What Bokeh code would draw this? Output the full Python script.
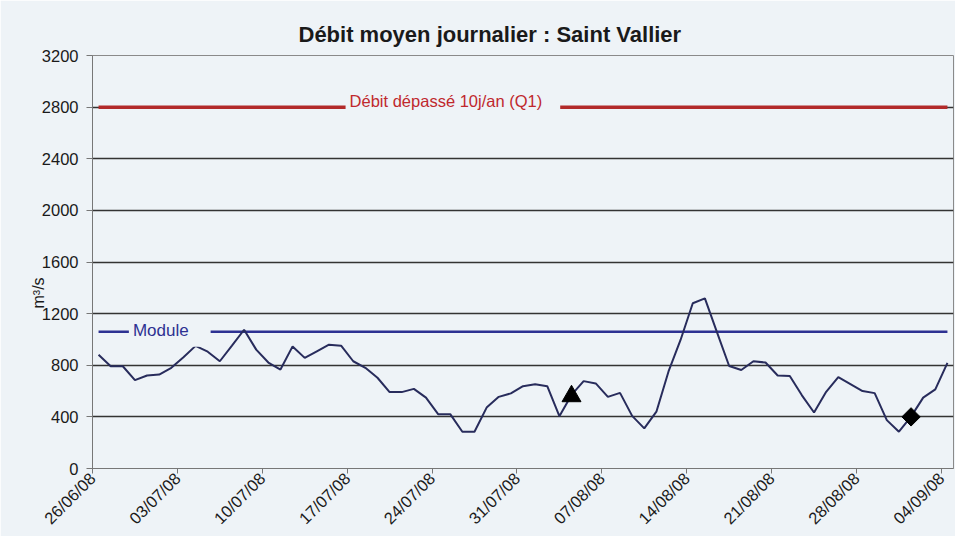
import pandas as pd
from math import pi
from bokeh.plotting import figure
from bokeh.models import Range1d, FixedTicker, Label, ColumnDataSource, Title
from bokeh.embed import file_html
from bokeh.resources import INLINE

# ---------------- data ----------------
start_date = "2008-06-26"
end_date = "2008-09-04"
dates = pd.date_range(start_date, end_date, freq="D")
debit = [882, 792, 792, 685, 721, 728, 780, 862, 950, 905,
         831, 952, 1075, 921, 821, 767, 946, 857, 908, 959,
         952, 831, 780, 703, 592, 592, 617, 549, 421, 421,
         285, 285, 472, 555, 582, 638, 652, 638, 405, 570,
         677, 659, 555, 586, 408, 311, 440, 752, 998, 1280,
         1318, 1055, 794, 763, 831, 821, 721, 717, 567, 434,
         594, 708, 654, 600, 584, 375, 285, 402, 549, 613, 818]
module_value = 1060
q1_value = 2800
triangle_dates = ["2008-08-04"]
triangle_values = [560]
diamond_dates = ["2008-09-01"]
diamond_values = [400]
tick_dates = ["2008-06-26", "2008-07-03", "2008-07-10", "2008-07-17", "2008-07-24",
              "2008-07-31", "2008-08-07", "2008-08-14", "2008-08-21", "2008-08-28",
              "2008-09-04"]
y_ticks = [0, 400, 800, 1200, 1600, 2000, 2400, 2800, 3200]

# ---------------- helpers ----------------
t0 = pd.Timestamp(start_date)
def dayx(d, mid=True):
    return (pd.Timestamp(d) - t0).days + (0.5 if mid else 0.0)

xs = [dayx(d) for d in dates]
n_days = len(dates)

BG = "#eef3f7"
FONT = "Liberation Sans"

p = figure(width=955, height=536, output_backend="svg", toolbar_location=None,
           x_range=Range1d(0, n_days), y_range=Range1d(0, 3200),
           min_border_left=92, min_border_right=2, min_border_top=55, min_border_bottom=67,
           background_fill_color=BG, border_fill_color=BG)

p.title.text = "Débit moyen journalier : Saint Vallier"
p.title.align = "left"
p.title.offset = 206
p.title.text_font = FONT
p.title.text_font_size = "22px"
p.title.text_font_style = "bold"
p.title.text_color = "#1a1a1a"
p.title.standoff = 18

p.outline_line_color = "#8a8a8a"
p.outline_line_width = 1

# grid
p.xgrid.visible = False
p.ygrid.ticker = FixedTicker(ticks=y_ticks)
p.ygrid.grid_line_color = "#333333"
p.ygrid.grid_line_width = 1.7

# axes
p.yaxis.ticker = FixedTicker(ticks=y_ticks)
p.yaxis.major_label_text_font = FONT
p.yaxis.major_label_text_font_size = "16.5px"
p.yaxis.major_label_text_color = "#1a1a1a"
p.yaxis.major_label_standoff = 8
p.yaxis.major_tick_out = 6
p.yaxis.major_tick_in = 0
p.yaxis.minor_tick_line_color = None
p.yaxis.axis_line_color = "#777777"
p.yaxis.major_tick_line_color = "#777777"

tick_pos = [dayx(d, mid=False) for d in tick_dates]
p.xaxis.ticker = FixedTicker(ticks=tick_pos)
p.xaxis.major_label_overrides = {tp: pd.Timestamp(d).strftime("%d/%m/%y")
                                 for tp, d in zip(tick_pos, tick_dates)}
p.xaxis.major_label_orientation = pi / 4
p.xaxis.major_label_text_font = FONT
p.xaxis.major_label_text_font_size = "16.5px"
p.xaxis.major_label_text_color = "#1a1a1a"
p.xaxis.major_label_standoff = 2
p.xaxis.major_tick_out = 5
p.xaxis.major_tick_in = 0
p.xaxis.minor_tick_line_color = None
p.xaxis.axis_line_color = "#777777"
p.xaxis.major_tick_line_color = "#777777"

# y-axis title, placed like the original (slightly below the middle)
p.add_layout(Title(text="m³/s", align="left", offset=160, standoff=-16,
                   text_font=FONT, text_font_size="16px", text_font_style="normal",
                   text_color="#1a1a1a"), "left")

# reference lines (series across the data range)
p.line([xs[0], xs[-1]], [q1_value, q1_value], line_color="#b22a2a", line_width=3.5)
p.line([xs[0], xs[-1]], [module_value, module_value], line_color="#2d3192", line_width=2.5)

# data series
src = ColumnDataSource(dict(x=xs, y=debit))
p.line("x", "y", source=src, line_color="#282c5c", line_width=2)

# measurement markers
p.scatter([dayx(d) for d in triangle_dates], triangle_values, marker="triangle",
          size=19, fill_color="black", line_color="black")
p.scatter([dayx(d) for d in diamond_dates], diamond_values, marker="square",
          angle=pi / 4, size=13, fill_color="black", line_color="black")

# labels with background boxes
p.add_layout(Label(x=3.0, y=module_value, text="Module", text_font=FONT,
                   text_font_size="17px", text_color="#2d3192",
                   text_align="left", text_baseline="middle",
                   background_fill_color=BG, padding=(4, 22, 4, 7)))
p.add_layout(Label(x=20.87, y=q1_value, text="Débit dépassé 10j/an (Q1)", text_font=FONT,
                   text_font_size="16.5px", text_color="#c0282d",
                   text_align="left", text_baseline="middle",
                   background_fill_color=BG, padding=(4, 18, 4, 16)))

open("out.html", "w").write(file_html(p, INLINE))
